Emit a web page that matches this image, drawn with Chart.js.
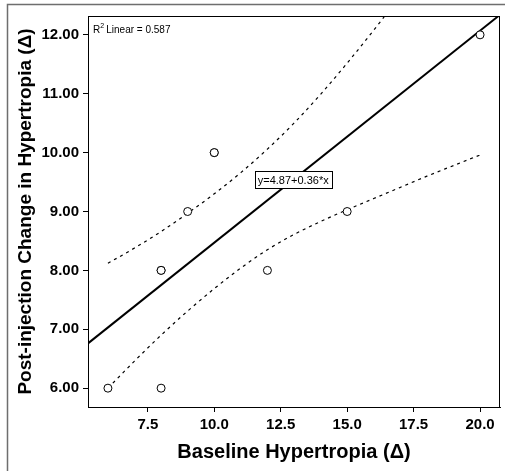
<!DOCTYPE html>
<html>
<head>
<meta charset="utf-8">
<script src="https://cdn.jsdelivr.net/npm/chart.js@4.4.0/dist/chart.umd.min.js"></script>
<style>
  html, body { margin: 0; padding: 0; background: #fff; }
</style>
</head>
<body>
<canvas id="chart" width="505" height="471"></canvas>
<script>
// observed cases (8,8) and (10,10) look doubled in the picture
const baseline = [6, 8, 8, 8, 9, 10, 10, 12, 15, 20];
const postChange = [6, 6, 8, 8, 9, 10, 10, 8, 9, 12];

// fit line y = 4.87 + 0.36x, across the whole x range
const fitX = [5.25, 20.75];
const fitY = [6.76, 12.34];

// 95% confidence band of the mean
const upperX = [6, 7, 8, 9, 10, 11, 12, 13, 14, 15, 16, 16.45];
const upperY = [8.12, 8.38, 8.66, 8.97, 9.3, 9.66, 10.06, 10.5, 10.99, 11.52, 12.08, 12.34];
const lowerX = [6, 7, 8, 9, 10, 11, 12, 13, 14, 15, 16, 17, 18, 19, 20];
const lowerY = [6.0, 6.46, 6.9, 7.31, 7.69, 8.04, 8.35, 8.61, 8.83, 9.03, 9.22, 9.41, 9.6, 9.78, 9.96];

const xTicks = [7.5, 10, 12.5, 15, 17.5, 20];
const yTicks = [6, 7, 8, 9, 10, 11, 12];

const xTitle = "Baseline Hypertropia (\u0394)";
const yTitle = "Post-injection Change in Hypertropia (\u0394)";
const r2Text = "Linear = 0.587";
const equation = "y=4.87+0.36*x";

const fontFamily = "'Liberation Sans', Arial, sans-serif";

function toPoints(xs, ys) {
    return xs.map((x, i) => ({ x: x, y: ys[i] }));
}

const framePlugin = {
    id: "frame",
    beforeDraw(chart) {
        const c = chart.ctx;
        c.save();
        c.fillStyle = "#fff";
        c.fillRect(0, 0, chart.width, chart.height);
        c.strokeStyle = "#6e6e6e";
        c.lineWidth = 1.5;
        c.beginPath();
        c.moveTo(7.5, chart.height);
        c.lineTo(7.5, 4.5);
        c.lineTo(chart.width, 4.5);
        c.stroke();
        c.restore();
    },
    afterDatasetsDraw(chart) {
        const c = chart.ctx;
        const a = chart.chartArea;
        c.save();
        c.strokeStyle = "#000";
        c.lineWidth = 1;
        c.strokeRect(a.left + 0.5, a.top + 0.5, a.right - a.left - 1, a.bottom - a.top);

        // R² note, top left of the plot
        c.fillStyle = "#000";
        c.textBaseline = "alphabetic";
        c.font = "10px " + fontFamily;
        c.fillText("R", a.left + 5, a.top + 17);
        const rw = c.measureText("R").width;
        c.font = "7px " + fontFamily;
        c.fillText("2", a.left + 5 + rw, a.top + 12);
        c.font = "10px " + fontFamily;
        c.fillText(r2Text, a.left + 5 + rw + 6, a.top + 17);

        // equation label on the fit line
        const xs = chart.scales.x, ys = chart.scales.y;
        const cx = xs.getPixelForValue(12.97);
        const cy = ys.getPixelForValue(9.54);
        c.font = "11px " + fontFamily;
        const w = c.measureText(equation).width + 6;
        const h = 17;
        c.fillStyle = "#fff";
        c.fillRect(cx - w / 2, cy - h / 2, w, h);
        c.strokeRect(Math.round(cx - w / 2) + 0.5, Math.round(cy - h / 2) + 0.5, Math.round(w), h);
        c.fillStyle = "#000";
        c.textAlign = "center";
        c.textBaseline = "middle";
        c.fillText(equation, cx, cy + 1);
        c.restore();
    }
};

const ctx = document.querySelector("#chart");

const bandStyle = {
    showLine: true,
    borderColor: "#000",
    borderWidth: 1.2,
    borderDash: [3, 4],
    cubicInterpolationMode: "monotone",
    pointRadius: 0,
};

const config = {
    type: "scatter",
    data: {
        datasets: [
            {
                label: "cases",
                data: toPoints(baseline, postChange),
                pointStyle: "circle",
                pointRadius: 4,
                pointBorderWidth: 1,
                pointBorderColor: "#000",
                pointBackgroundColor: "#fff",
                showLine: false,
                order: 0,
            },
            {
                label: "fit",
                data: toPoints(fitX, fitY),
                showLine: true,
                borderColor: "#000",
                borderWidth: 2,
                pointRadius: 0,
                order: 1,
            },
            Object.assign({ label: "upper", data: toPoints(upperX, upperY), order: 2 }, bandStyle),
            Object.assign({ label: "lower", data: toPoints(lowerX, lowerY), order: 3 }, bandStyle),
        ],
    },
    options: {
        responsive: false,
        animation: false,
        layout: { padding: { top: 16, right: 4, left: 0, bottom: 0 } },
        plugins: {
            legend: { display: false },
            tooltip: { enabled: false },
        },
        scales: {
            x: {
                type: "linear",
                min: 5.25,
                max: 20.75,
                afterBuildTicks: (s) => { s.ticks = xTicks.map((v) => ({ value: v })); },
                afterFit: (s) => { s.height = 64; },
                ticks: {
                    callback: (v) => Number(v).toFixed(1),
                    color: "#000",
                    font: { family: fontFamily, size: 15, weight: "bold" },
                    padding: 4,
                    maxRotation: 0,
                },
                grid: { drawOnChartArea: false, tickLength: 5, color: "#000" },
                border: { color: "#000" },
                title: {
                    display: true,
                    text: xTitle,
                    color: "#000",
                    font: { family: fontFamily, size: 20, weight: "bold" },
                    padding: { top: 0, bottom: 7 },
                },
            },
            y: {
                type: "linear",
                min: 5.68,
                max: 12.32,
                afterBuildTicks: (s) => { s.ticks = yTicks.map((v) => ({ value: v })); },
                afterFit: (s) => { s.width = 88; },
                ticks: {
                    callback: (v) => Number(v).toFixed(2),
                    color: "#000",
                    font: { family: fontFamily, size: 15, weight: "bold" },
                    padding: 4,
                },
                grid: { drawOnChartArea: false, tickLength: 5, color: "#000" },
                border: { color: "#000" },
                title: {
                    display: true,
                    text: yTitle,
                    color: "#000",
                    font: { family: fontFamily, size: 19, weight: "bold" },
                    padding: { top: 14, bottom: 0 },
                },
            },
        },
    },
    plugins: [framePlugin],
};

const myChart = new Chart(ctx, config);
</script>
</body>
</html>
